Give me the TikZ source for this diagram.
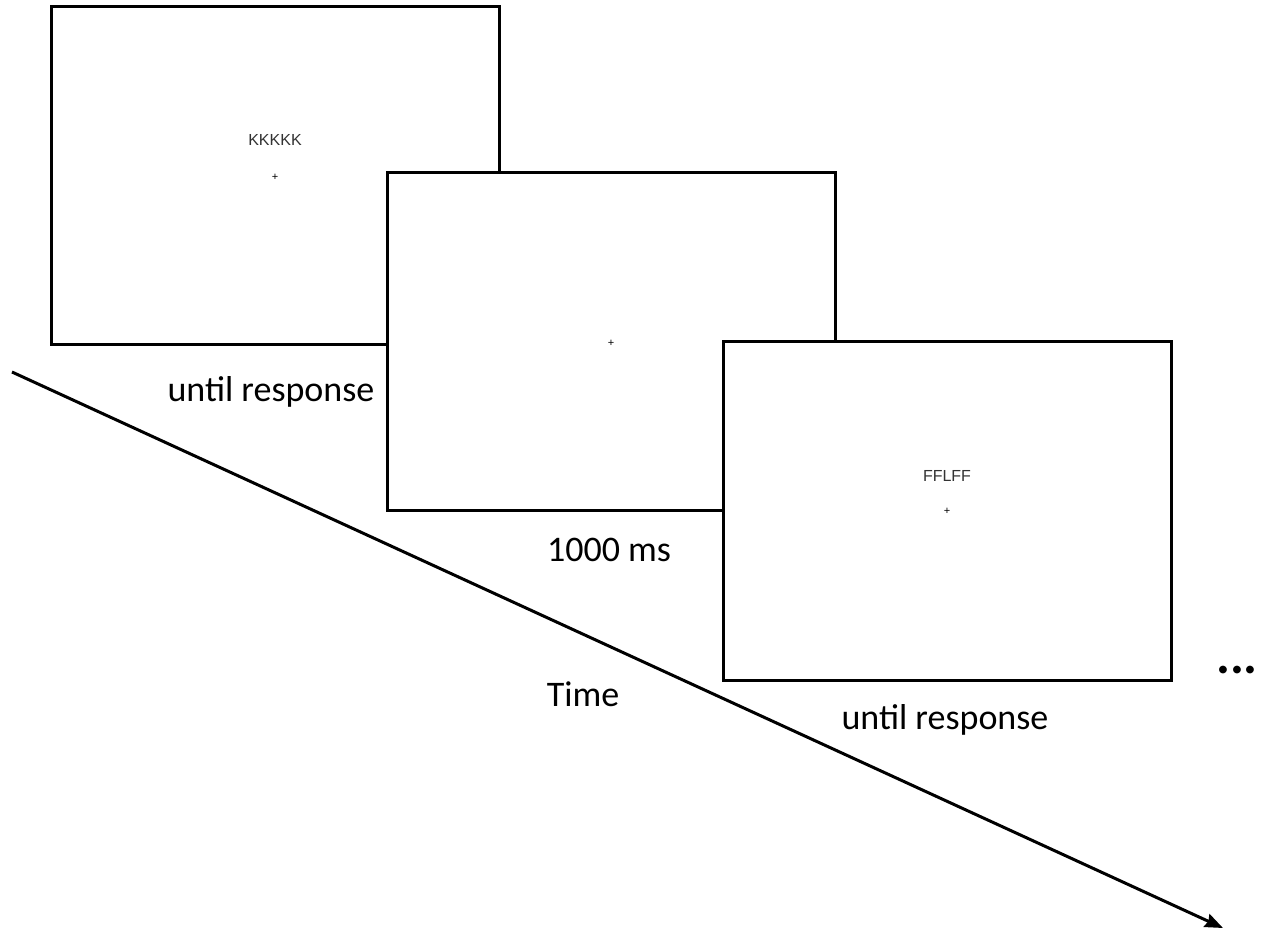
\documentclass[tikz,border=0pt]{standalone}
\usepackage{fontspec}
\setmainfont{Carlito}
\newfontfamily\stimfont{Liberation Sans}
\usetikzlibrary{arrows.meta,positioning}
\tikzset{
  screen/.style={draw=black, fill=white, line width=1.5pt, minimum width=224pt, minimum height=169pt, inner sep=0pt},
  caption/.style={font=\fontsize{18}{20}\selectfont, anchor=base, inner sep=0pt},
  stim/.style={font=\stimfont\fontsize{8}{9}\selectfont, text=black!80, inner sep=0pt},
  fix/.style={font=\stimfont\fontsize{5.5}{6}\selectfont, inner sep=0pt}
}
\begin{document}
\begin{tikzpicture}[x=0.5pt, y=-0.5pt]
            \useasboundingbox (0, 0) rectangle (1264, 930);
            % time axis
            \coordinate (tstart) at (12, 372);
            \coordinate (tend) at (1223, 928);
            \draw[line width=1.5pt, -{Stealth[length=9pt, width=7pt, inset=1pt]}] (tstart) -- (tend);
            % screens
            \node[screen] (screenA) at (275, 176) {};
            \node[stim] (flankA) at (275, 140) {KKKKK};
            \node[fix] (fixA) at (275, 177) {+};
            \node[caption] (durA) at (271, 402) {until response};
            \node[screen] (screenB) at (611, 342) {};
            \node[fix] (fixB) at (611, 343) {+};
            \node[caption] (durB) at (609, 561) {1000 ms};
            \node[screen] (screenC) at (947, 511) {};
            \node[stim] (flankC) at (947, 476) {FFLFF};
            \node[fix] (fixC) at (947, 511) {+};
            \node[caption] (durC) at (945, 729) {until response};
            \node[caption] (time) at (583, 706) {Time};
            \node[caption, font=\bfseries\fontsize{26}{28}\selectfont] (more) at (1237, 673) {...};
        \end{tikzpicture}
\end{document}
